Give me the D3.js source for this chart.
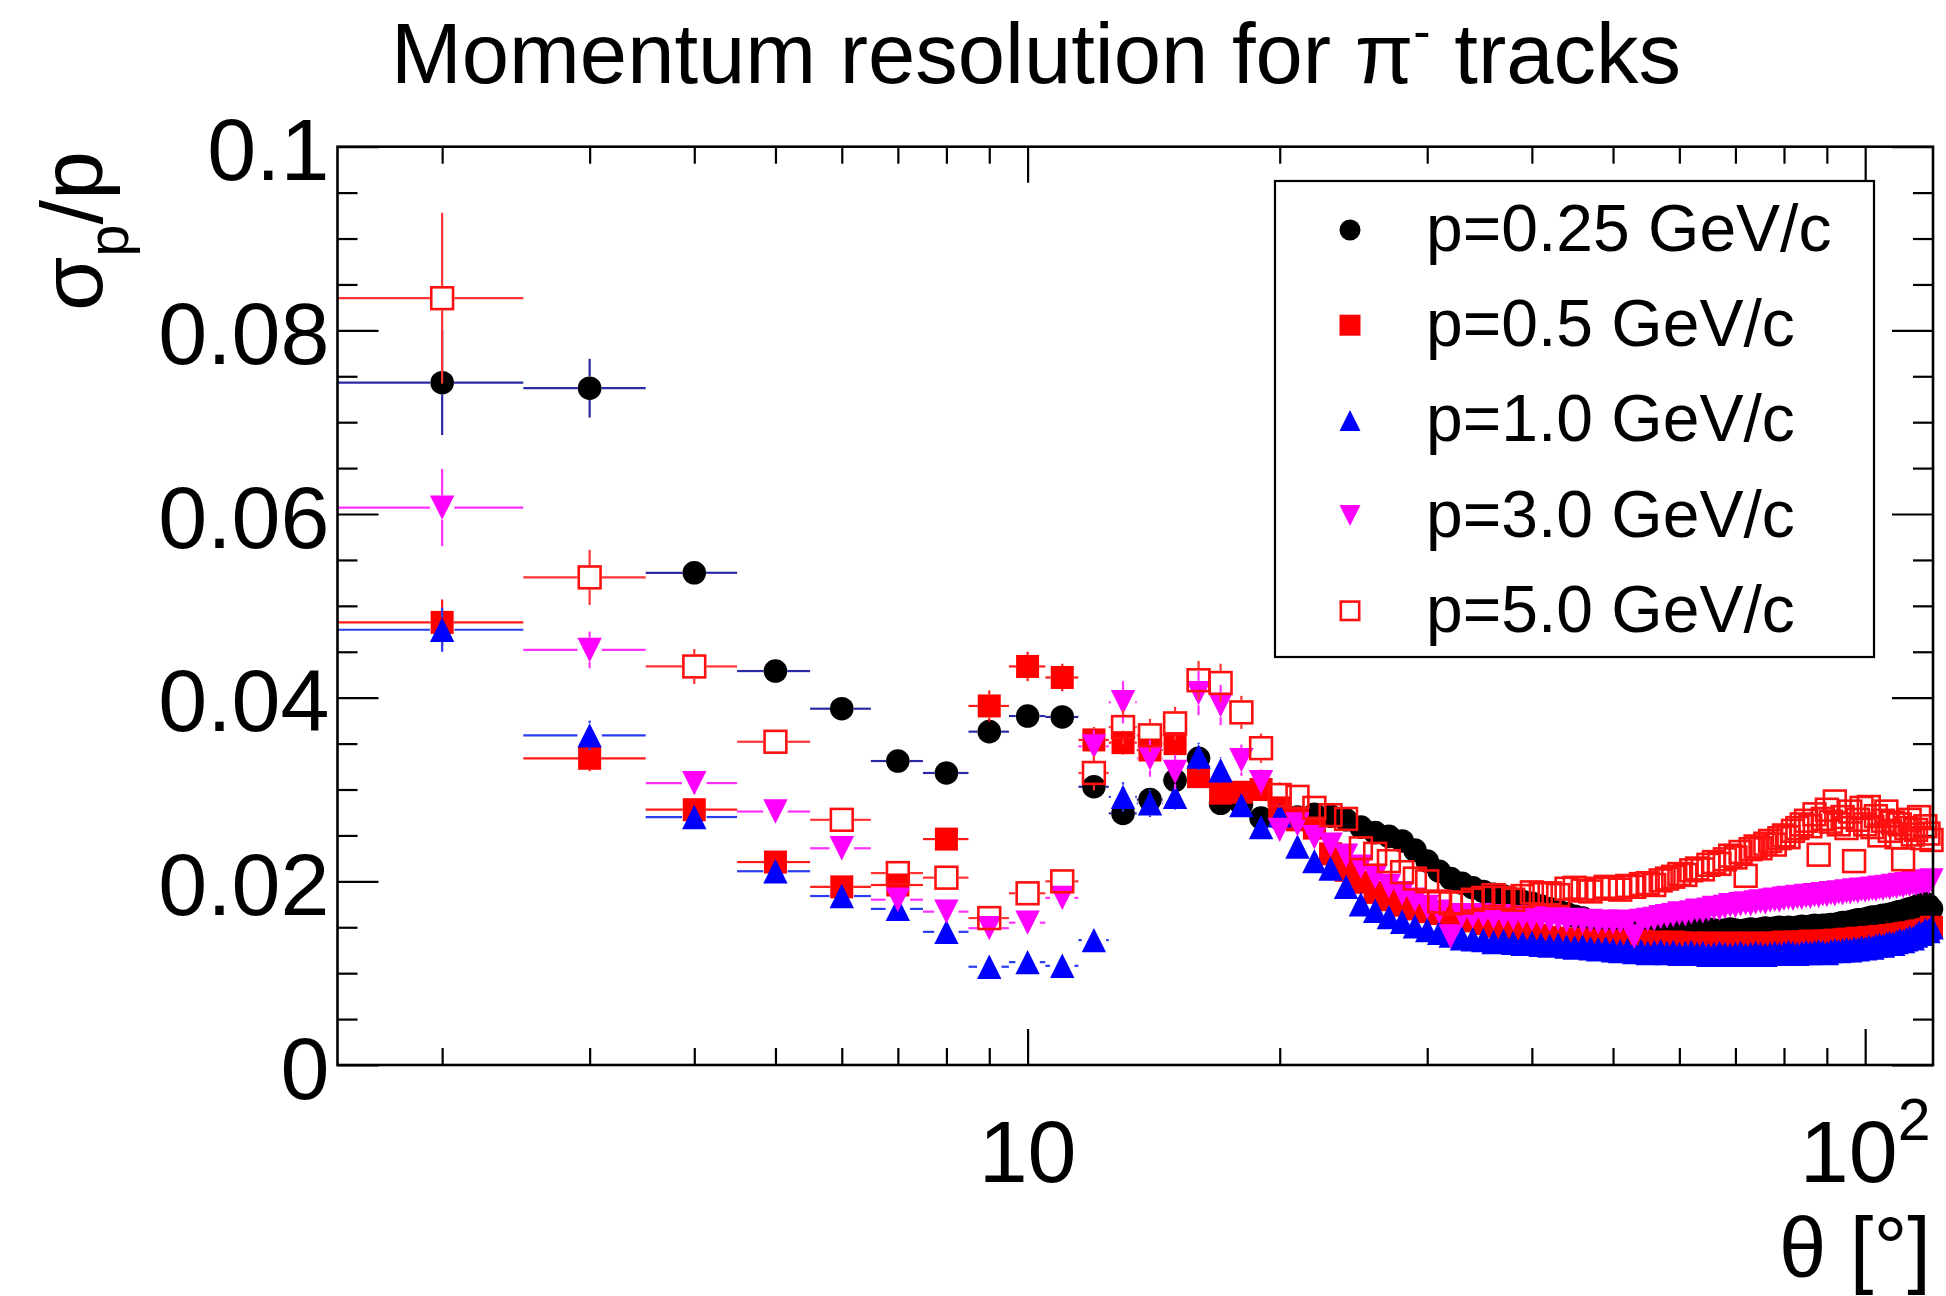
<!DOCTYPE html>
<html><head><meta charset="utf-8">
<script src="https://cdn.jsdelivr.net/npm/d3@7"></script>
<style>html,body{margin:0;padding:0;background:#fff;} svg{display:block;}</style>
</head><body>
<svg id="chart" width="1946" height="1296"></svg>
<script>
// ---------------- data ----------------
const theta = [2,3,4,5,6,7,8,9,10,11,12,13,14,15,16,17,18,19,20,21,
 22,23,24,25,26,27,28,29,30,31,32,33,34,35,36,37,38,39,40,41,
 42,43,44,45,46,47,48,49,50,51,52,53,54,55,56,57,58,59,60,61,
 62,63,64,65,66,67,68,69,70,71,72,73,74,75,76,77,78,79,80,81,
 82,83,84,85,86,87,88,89,90,91,92,93,94,95,96,97,98,99,100,101,
 102,103,104,105,106,107,108,109,110,111,112,113,114,115,116,117,118,119,120];

const p025 = [.0743,.0737,.0536,.0429,.0388,.0331,.0318,.0363,.0380,.0379,
 .0303,.0274,.0289,.0310,.0334,.0285,.0284,.0269,.0268,.0270,
 .0273,.0271,.0267,.0259,.0253,.0249,.0244,.0234,.0222,.0211,
 .0203,.0198,.0193,.0189,.0186,.0184,.0181,.0178,.0176,.0173,
 .0170,.0168,.0165,.0162,.0160,.0157,.0155,.0152,.0151,.0150,
 .0151,.0149,.0150,.0150,.0149,.0151,.0149,.0148,.0149,.0148,
 .0147,.0148,.0147,.0148,.0147,.0146,.0147,.0148,.0147,.0146,
 .0147,.0148,.0147,.0148,.0149,.0148,.0149,.0150,.0149,.0150,
 .0149,.0150,.0151,.0150,.0151,.0152,.0151,.0152,.0152,.0153,
 .0153,.0154,.0155,.0155,.0156,.0157,.0158,.0158,.0159,.0160,
 .0161,.0161,.0162,.0163,.0163,.0164,.0165,.0166,.0167,.0167,
 .0169,.0170,.0171,.0172,.0174,.0173,.0176,.0174,.0170];

const p05 = [.0482,.0334,.0278,.0221,.0194,.0196,.0246,.0391,.0434,.0422,
 .0354,.0351,.0343,.0350,.0314,.0296,.0297,.0300,.0280,.0267,
 .0258,.0230,.0212,.0199,.0188,.0180,.0174,.0170,.0167,.0165,
 .0163,.0160,.0157,.0154,.0151,.0149,.0147,.0145,.0143,.0141,
 .0139,.0138,.0137,.0137,.0136,.0135,.0135,.0134,.0135,.0134,
 .0133,.0134,.0135,.0133,.0134,.0133,.0132,.0134,.0133,.0132,
 .0133,.0131,.0132,.0133,.0132,.0131,.0132,.0133,.0132,.0131,
 .0132,.0133,.0132,.0131,.0132,.0133,.0132,.0133,.0134,.0133,
 .0132,.0134,.0133,.0134,.0135,.0134,.0133,.0135,.0134,.0135,
 .0136,.0135,.0136,.0137,.0136,.0137,.0138,.0137,.0138,.0139,
 .0138,.0139,.0140,.0139,.0140,.0141,.0140,.0142,.0141,.0143,
 .0142,.0144,.0143,.0145,.0146,.0145,.0147,.0148,.0150];

const p10 = [.0474,.0359,.0270,.0211,.0184,.0170,.0145,.0107,.0112,.0108,
 .0136,.0292,.0285,.0292,.0336,.0321,.0283,.0259,.0272,.0238,
 .0222,.0214,.0194,.0175,.0168,.0161,.0156,.0151,.0147,.0144,
 .0141,.0138,.0137,.0136,.0134,.0135,.0133,.0132,.0133,.0131,
 .0130,.0131,.0129,.0128,.0129,.0127,.0126,.0127,.0125,.0124,
 .0125,.0123,.0124,.0122,.0123,.0124,.0122,.0123,.0121,.0122,
 .0123,.0121,.0122,.0120,.0121,.0122,.0121,.0120,.0121,.0122,
 .0120,.0121,.0122,.0121,.0120,.0121,.0122,.0121,.0122,.0123,
 .0122,.0121,.0122,.0123,.0122,.0123,.0124,.0123,.0122,.0124,
 .0125,.0124,.0125,.0126,.0125,.0127,.0126,.0128,.0127,.0129,
 .0128,.0130,.0131,.0130,.0132,.0133,.0132,.0134,.0136,.0135,
 .0137,.0139,.0138,.0141,.0144,.0143,.0147,.0146,.0150];

const p30 = [.0607,.0452,.0307,.0276,.0236,.0180,.0167,.0149,.0155,.0182,
 .0347,.0395,.0334,.0319,.0405,.0392,.0332,.0308,.0256,.0262,
 .0248,.0240,.0228,.0216,.0205,.0195,.0187,.0180,.0172,.0167,
 .0140,.0163,.0162,.0163,.0161,.0162,.0160,.0161,.0159,.0160,
 .0158,.0159,.0157,.0158,.0156,.0157,.0155,.0156,.0155,.0156,
 .0154,.0140,.0157,.0158,.0159,.0161,.0162,.0163,.0165,.0164,
 .0166,.0168,.0167,.0169,.0171,.0170,.0172,.0174,.0173,.0175,
 .0176,.0175,.0177,.0178,.0177,.0179,.0180,.0179,.0181,.0182,
 .0181,.0183,.0182,.0184,.0183,.0185,.0184,.0186,.0185,.0187,
 .0186,.0188,.0187,.0189,.0188,.0190,.0189,.0191,.0190,.0191,
 .0192,.0191,.0193,.0192,.0194,.0193,.0195,.0194,.0196,.0195,
 .0197,.0196,.0198,.0197,.0199,.0198,.0200,.0199,.0201];

const p50 = [.0835,.0531,.0434,.0352,.0267,.0209,.0204,.0160,.0187,.0200,
 .0318,.0368,.0359,.0372,.0419,.0416,.0384,.0345,.0294,.0292,
 .0280,.0272,.0268,.0236,.0230,.0222,.0210,.0203,.0200,.0178,
 .0176,.0177,.0180,.0182,.0185,.0182,.0180,.0184,.0188,.0186,
 .0187,.0185,.0192,.0193,.0190,.0189,.0192,.0194,.0193,.0191,
 .0195,.0194,.0197,.0198,.0196,.0201,.0203,.0205,.0208,.0207,
 .0212,.0214,.0213,.0218,.0221,.0219,.0224,.0228,.0226,.0232,
 .0206,.0235,.0238,.0236,.0241,.0244,.0240,.0247,.0250,.0248,
 .0255,.0258,.0262,.0266,.0260,.0273,.0229,.0268,.0278,.0265,
 .0287,.0262,.0270,.0258,.0276,.0222,.0267,.0280,.0262,.0281,
 .0259,.0271,.0250,.0266,.0276,.0255,.0264,.0248,.0262,.0224,
 .0258,.0267,.0251,.0256,.0270,.0247,.0260,.0252,.0245];

// vertical errors for the first bins (theta 2..30); further out they hide under the markers
const e025 = [.0057,.0032,.0011,.0007,.0006,.0006,.0006,.0007,.0006,.0006,.0008,.0007,.0007,.0008,.0008,.0007,.0007,.0006,.0006,.0006,.0005,.0005,.0005,.0005,.0005,.0004,.0004,.0004,.0004];
const e05  = [.0025,.0014,.0009,.0007,.0006,.0006,.0008,.0017,.0016,.0015,.0014,.0013,.0012,.0012,.0011,.0010,.0010,.0009,.0009,.0008,.0008,.0007,.0007,.0006,.0006,.0006,.0005,.0005,.0005];
const e10  = [.0024,.0016,.0010,.0007,.0006,.0006,.0006,.0006,.0006,.0006,.0007,.0016,.0015,.0014,.0015,.0014,.0012,.0010,.0010,.0008,.0008,.0007,.0007,.0006,.0006,.0006,.0005,.0005,.0005];
const e30  = [.0042,.0020,.0010,.0008,.0007,.0007,.0007,.0007,.0008,.0009,.0018,.0023,.0020,.0019,.0024,.0022,.0017,.0014,.0012,.0010,.0009,.0009,.0008,.0008,.0007,.0007,.0006,.0006,.0006];
const e50  = [.0093,.0030,.0019,.0012,.0012,.0010,.0009,.0009,.0010,.0011,.0019,.0019,.0018,.0018,.0021,.0021,.0018,.0016,.0014,.0013,.0012,.0012,.0011,.0011,.0010,.0010,.0010,.0009,.0009];

const binHalfWidth = 0.5;
const yMajorTicks = [0, 0.02, 0.04, 0.06, 0.08, 0.1];
const yMajorLabels = ["0", "0.02", "0.04", "0.06", "0.08", "0.1"];
const yMinorTicks = [0.005,0.01,0.015,0.025,0.03,0.035,0.045,0.05,0.055,0.065,0.07,0.075,0.085,0.09,0.095];
const xMajorTicks = [10, 100];
const xMinorTicks = [2,3,4,5,6,7,8,9,20,30,40,50,60,70,80,90];
const legendLabels = ["p=0.25 GeV/c", "p=0.5 GeV/c", "p=1.0 GeV/c", "p=3.0 GeV/c", "p=5.0 GeV/c"];

// ---------------- layout ----------------
const FONT = "'Liberation Sans', Arial, Helvetica, sans-serif";
const F = {left: 337.5, right: 1933, top: 146.7, bottom: 1065};
const x = d3.scaleLog().domain([1.5, 120.5]).range([F.left, F.right]);
const y = d3.scaleLinear().domain([0, 0.1]).range([F.bottom, F.top]);
const svg = d3.select('#chart');
svg.append('rect').attr('width',1946).attr('height',1296).attr('fill','#fff');

function styleAxis(g) {
  g.select('.domain').remove();
  g.selectAll('line').attr('stroke', '#000').attr('stroke-width', 2.2);
  g.selectAll('text').attr('font-family', FONT).attr('font-size', 88).attr('fill', '#000');
}
// left
let g = svg.append('g').attr('transform', `translate(${F.left},0)`)
  .call(d3.axisLeft(y).tickValues(yMajorTicks).tickSize(-41).tickSizeOuter(0).tickPadding(8)
        .tickFormat((d, i) => yMajorLabels[i]));
styleAxis(g); g.selectAll('text').attr('dy', '0.375em');
g = svg.append('g').attr('transform', `translate(${F.left},0)`)
  .call(d3.axisLeft(y).tickValues(yMinorTicks).tickSize(-20).tickSizeOuter(0).tickFormat(''));
styleAxis(g);
// right
g = svg.append('g').attr('transform', `translate(${F.right},0)`)
  .call(d3.axisRight(y).tickValues(yMajorTicks).tickSize(-41).tickSizeOuter(0).tickFormat(''));
styleAxis(g);
g = svg.append('g').attr('transform', `translate(${F.right},0)`)
  .call(d3.axisRight(y).tickValues(yMinorTicks).tickSize(-20).tickSizeOuter(0).tickFormat(''));
styleAxis(g);
// bottom
g = svg.append('g').attr('transform', `translate(0,${F.bottom})`)
  .call(d3.axisBottom(x).tickValues(xMajorTicks).tickSize(-36).tickSizeOuter(0).tickFormat(''));
styleAxis(g);
g = svg.append('g').attr('transform', `translate(0,${F.bottom})`)
  .call(d3.axisBottom(x).tickValues(xMinorTicks).tickSize(-17).tickSizeOuter(0).tickFormat(''));
styleAxis(g);
// top
g = svg.append('g').attr('transform', `translate(0,${F.top})`)
  .call(d3.axisTop(x).tickValues(xMajorTicks).tickSize(-36).tickSizeOuter(0).tickFormat(''));
styleAxis(g);
g = svg.append('g').attr('transform', `translate(0,${F.top})`)
  .call(d3.axisTop(x).tickValues(xMinorTicks).tickSize(-17).tickSizeOuter(0).tickFormat(''));
styleAxis(g);

// x tick labels
const xl = svg.append('g').attr('font-family', FONT).attr('font-size', 88).attr('fill', '#000');
xl.append('text').attr('x', x(10)).attr('y', 1182).attr('text-anchor', 'middle').text('10');
const t100 = xl.append('text').attr('x', x(100)).attr('y', 1182).attr('text-anchor', 'middle');
t100.append('tspan').text('10');
t100.append('tspan').attr('dy', -42).attr('font-size', 59).text('2');

// axis titles
svg.append('text').attr('x', 1931).attr('y', 1277).attr('text-anchor', 'end')
  .attr('font-family', FONT).attr('font-size', 85).text('θ [°]');
const yt = svg.append('text').attr('transform', 'translate(102,151) rotate(-90)')
  .attr('text-anchor', 'end').attr('font-family', FONT).attr('font-size', 88);
yt.append('tspan').text('σ');
yt.append('tspan').attr('dy', 26).attr('font-size', 58).text('p');
yt.append('tspan').attr('dy', -26).text('/p');

// title
const tt = svg.append('text').attr('x', 1036).attr('y', 83).attr('text-anchor', 'middle')
  .attr('font-family', FONT).attr('font-size', 85);
tt.append('tspan').text('Momentum resolution for π');
tt.append('tspan').attr('dy', -34).attr('font-size', 52).text('-');
tt.append('tspan').attr('dy', 34).text(' tracks');

// ---------------- series ----------------
function drawMarker(gg, shape, cx, cy, color, h) {
  if (shape === 'circle') gg.append('circle').attr('cx', cx).attr('cy', cy).attr('r', h).attr('fill', color);
  else if (shape === 'square') gg.append('rect').attr('x', cx - h).attr('y', cy - h).attr('width', 2*h).attr('height', 2*h).attr('fill', color);
  else if (shape === 'up') gg.append('path').attr('d', `M${cx},${cy-h}L${cx+h},${cy+h}L${cx-h},${cy+h}Z`).attr('fill', color);
  else if (shape === 'down') gg.append('path').attr('d', `M${cx},${cy+h}L${cx+h},${cy-h}L${cx-h},${cy-h}Z`).attr('fill', color);
  else if (shape === 'open') gg.append('rect').attr('x', cx - h + 1.3).attr('y', cy - h + 1.3).attr('width', 2*h - 2.6).attr('height', 2*h - 2.6)
      .attr('fill', 'none').attr('stroke', color).attr('stroke-width', 2.6);
}
const series = [
  {vals: p025, err: e025, shape: 'circle', color: '#000000', bar: '#2a2aa6', h: 11.8},
  {vals: p05,  err: e05,  shape: 'square', color: '#ff0000', bar: '#ff1a1a', h: 11.5},
  {vals: p10,  err: e10,  shape: 'up',     color: '#0000ff', bar: '#2a3cf0', h: 12.2},
  {vals: p30,  err: e30,  shape: 'down',   color: '#ff00ff', bar: '#ff30ff', h: 12.2},
  {vals: p50,  err: e50,  shape: 'open',   color: '#ff1010', bar: '#ff3535', h: 12.2}
];
series.forEach(s => {
  const gg = svg.append('g');
  const HALF = s.h;
  theta.forEach((t, i) => {
    const v = s.vals[i];
    const cx = x(t), cy = y(v);
    const e = s.err[i] || 0;
    const x0 = x(t - binHalfWidth), x1 = x(t + binHalfWidth);
    const segs = [];
    if (cx - x0 > HALF) segs.push([x0, cy, cx - HALF, cy]);
    if (x1 - cx > HALF) segs.push([cx + HALF, cy, x1, cy]);
    const ytop = y(v + e), ybot = y(v - e);
    if (cy - ytop > HALF) segs.push([cx, ytop, cx, cy - HALF]);
    if (ybot - cy > HALF) segs.push([cx, cy + HALF, cx, ybot]);
    segs.forEach(sg => gg.append('line').attr('x1', sg[0]).attr('y1', sg[1]).attr('x2', sg[2]).attr('y2', sg[3])
      .attr('stroke', s.bar).attr('stroke-width', 2.2));
    drawMarker(gg, s.shape, cx, cy, s.color, HALF);
  });
});

// frame
svg.append('rect').attr('x', F.left).attr('y', F.top).attr('width', F.right - F.left).attr('height', F.bottom - F.top)
  .attr('fill', 'none').attr('stroke', '#000').attr('stroke-width', 2.6);

// ---------------- legend ----------------
const lg = svg.append('g');
lg.append('rect').attr('x', 1275).attr('y', 181).attr('width', 599).attr('height', 476)
  .attr('fill', '#fff').attr('stroke', '#000').attr('stroke-width', 2.2);
legendLabels.forEach((lab, i) => {
  const my = 230 + i * 95.2;
  drawMarker(lg, series[i].shape, 1350, my, series[i].color, 10.5);
  lg.append('text').attr('x', 1426).attr('y', my + 21).attr('font-family', FONT).attr('font-size', 66)
    .attr('fill', '#000').text(lab);
});
</script>
</body></html>
